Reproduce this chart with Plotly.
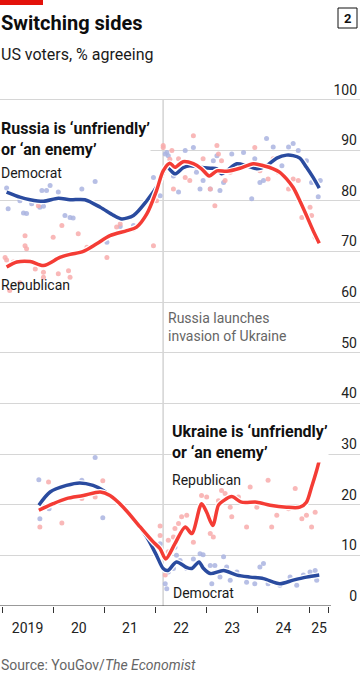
import plotly.graph_objects as go

# ---------------- data ----------------
# Russia is 'unfriendly' or 'an enemy' - trend lines
ru_dem_x = [2019.09, 2019.35, 2019.55, 2019.81, 2020.10, 2020.33, 2020.62, 2020.92, 2021.18, 2021.34,
            2021.57, 2021.83, 2022.06, 2022.22, 2022.38, 2022.54, 2022.67, 2022.87, 2023.07, 2023.20,
            2023.29, 2023.39, 2023.59, 2023.78, 2023.98, 2024.17, 2024.37, 2024.56, 2024.69, 2024.82,
            2024.95, 2025.08, 2025.20]
ru_dem_y = [81.7, 80.7, 80.2, 79.9, 80.5, 80.2, 80.2, 78.7, 77.1, 76.4,
            77.1, 80.0, 83.3, 86.6, 85.3, 86.5, 86.9, 86.6, 86.4, 86.3,
            85.3, 85.9, 87.3, 86.9, 86.3, 86.9, 88.4, 89.0, 88.9, 88.4,
            86.6, 84.6, 82.5]
ru_rep_x = [2019.09, 2019.29, 2019.55, 2019.81, 2020.13, 2020.33, 2020.59, 2020.85, 2021.11, 2021.44,
            2021.63, 2021.83, 2022.02, 2022.15, 2022.28, 2022.38, 2022.54, 2022.74, 2022.90, 2023.05,
            2023.20, 2023.39, 2023.65, 2023.91, 2024.11, 2024.30, 2024.43, 2024.56, 2024.69, 2024.82,
            2024.95, 2025.08, 2025.20]
ru_rep_y = [66.9, 67.9, 68.0, 67.2, 68.8, 69.4, 70.0, 71.5, 73.1, 74.1,
            74.8, 77.4, 82.0, 85.9, 87.4, 86.6, 87.7, 87.3, 86.3, 84.9,
            85.9, 85.8, 86.4, 87.3, 86.9, 86.3, 85.6, 84.3, 82.6, 80.0,
            77.1, 74.1, 71.6]

# Russia - individual polls
ru_dem_pts_x = [2019.09, 2019.12, 2019.35, 2019.42, 2019.48, 2019.58, 2019.65, 2019.74, 2019.81, 2019.87,
                2019.94, 2019.78, 2020.10, 2020.23, 2020.33, 2020.39, 2020.56, 2020.82, 2021.05, 2021.31,
                2021.57, 2021.96, 2022.09, 2022.22, 2022.25, 2022.19, 2022.35, 2022.45, 2022.58, 2022.74,
                2022.80, 2022.87, 2022.93, 2023.07, 2023.13, 2023.20, 2023.26, 2023.33, 2023.49, 2023.72,
                2023.88, 2023.94, 2024.04, 2024.11, 2024.17, 2024.30, 2024.47, 2024.60, 2024.69, 2024.79,
                2024.95, 2025.05, 2025.18, 2025.22]
ru_dem_pts_y = [82.5, 78.4, 80.0, 77.6, 77.5, 79.4, 80.0, 78.7, 78.9, 82.0,
                83.0, 82.0, 81.7, 77.1, 76.7, 76.6, 82.3, 83.8, 71.8, 74.9,
                75.1, 84.6, 81.0, 89.5, 88.9, 89.2, 84.9, 81.7, 89.9, 90.5,
                85.6, 82.3, 84.0, 82.3, 87.9, 88.9, 82.0, 83.6, 89.2, 89.5,
                80.4, 88.3, 83.6, 84.0, 92.3, 90.6, 86.9, 90.6, 91.3, 89.9,
                87.9, 83.6, 80.8, 84.0]
ru_rep_pts_x = [2019.06, 2019.09, 2019.22, 2019.45, 2019.45, 2019.48, 2019.65, 2019.71, 2019.81, 2019.81,
                2020.00, 2020.10, 2020.17, 2020.30, 2020.33, 2020.49, 2020.66, 2021.05, 2021.24, 2021.31,
                2021.57, 2021.96, 2022.02, 2022.15, 2022.32, 2019.15, 2019.35, 2022.15, 2022.28, 2022.35,
                2022.45, 2022.58, 2022.67, 2022.74, 2022.80, 2022.93, 2023.07, 2023.16, 2023.20, 2023.23,
                2023.29, 2023.36, 2023.46, 2023.94, 2024.04, 2024.20, 2024.30, 2024.40, 2024.60, 2024.69,
                2024.79, 2024.86, 2025.02, 2025.12, 2025.05]
ru_rep_pts_y = [68.8, 68.3, 67.9, 73.1, 71.1, 70.5, 66.5, 79.0, 65.9, 64.9,
                72.8, 65.6, 75.1, 66.2, 64.9, 73.5, 70.8, 68.8, 74.8, 75.4,
                74.4, 71.1, 80.0, 90.9, 89.9, 62.3, 63.8, 90.5, 88.2, 82.3,
                88.3, 84.6, 84.0, 92.8, 86.6, 88.3, 82.3, 79.0, 90.9, 89.2,
                87.9, 84.0, 85.6, 90.5, 85.9, 84.3, 88.3, 85.6, 82.3, 84.3,
                84.0, 76.7, 78.7, 72.8, 77.1]

# Ukraine is 'unfriendly' or 'an enemy' - trend lines
ua_dem_x = [2019.72, 2019.94, 2020.26, 2020.52, 2020.78, 2020.98, 2021.24, 2021.57, 2021.83, 2022.02,
            2022.15, 2022.24, 2022.41, 2022.61, 2022.71, 2022.85, 2022.93, 2023.07, 2023.33, 2023.59,
            2023.85, 2024.11, 2024.43, 2024.69, 2024.95, 2025.20]
ua_dem_y = [19.9, 22.5, 23.8, 24.3, 23.8, 22.8, 20.8, 17.2, 13.6, 10.0,
            7.4, 7.0, 8.7, 7.6, 7.4, 8.7, 7.5, 6.4, 7.0, 6.1,
            5.7, 5.4, 4.4, 5.1, 5.7, 6.1]
ua_rep_x = [2019.72, 2020.00, 2020.26, 2020.59, 2020.92, 2021.11, 2021.37, 2021.70, 2021.96, 2022.09,
            2022.20, 2022.38, 2022.58, 2022.71, 2022.90, 2023.00, 2023.12, 2023.23, 2023.33, 2023.49,
            2023.68, 2023.98, 2024.24, 2024.56, 2024.82, 2024.95, 2025.05, 2025.15, 2025.20]
ua_rep_y = [18.9, 20.2, 21.2, 21.8, 22.5, 21.8, 19.5, 15.6, 12.6, 11.3,
            9.3, 12.3, 15.6, 14.3, 20.2, 18.5, 15.9, 19.9, 20.8, 21.6,
            20.5, 20.5, 19.9, 19.5, 19.5, 20.5, 23.5, 26.8, 28.7]

# Ukraine - individual polls
ua_dem_pts_x = [2019.72, 2019.74, 2019.92, 2020.56, 2020.82, 2020.97, 2022.09, 2022.19, 2022.22, 2022.25,
                2022.35, 2022.41, 2022.38, 2022.48, 2022.61, 2022.74, 2022.87, 2022.93, 2023.07, 2023.10,
                2023.16, 2023.20, 2023.26, 2023.33, 2023.39, 2023.46, 2023.59, 2023.78, 2023.94, 2024.04,
                2024.11, 2024.20, 2024.43, 2024.63, 2024.76, 2024.89, 2025.02, 2025.12, 2025.15]
ua_dem_pts_y = [24.9, 17.2, 19.2, 24.8, 29.3, 17.4, 12.3, 4.4, 3.4, 6.7,
                7.4, 10.0, 11.6, 9.0, 7.4, 9.3, 10.3, 10.1, 8.0, 4.4,
                8.0, 6.7, 5.7, 9.7, 7.7, 5.1, 6.7, 4.7, 4.4, 7.7,
                8.4, 4.4, 4.1, 5.7, 4.1, 6.1, 6.7, 7.0, 5.1]
ua_rep_pts_x = [2019.91, 2020.17, 2019.74, 2020.56, 2020.82, 2020.97, 2022.09, 2022.09, 2021.96, 2022.19,
                2022.25, 2022.35, 2022.45, 2022.25, 2022.38, 2022.51, 2022.61, 2022.74, 2022.90, 2023.00,
                2023.07, 2023.13, 2023.16, 2023.23, 2023.29, 2023.36, 2023.46, 2023.49, 2023.62, 2023.78,
                2023.85, 2023.98, 2024.20, 2024.27, 2024.37, 2024.60, 2024.73, 2024.86, 2024.95, 2025.05,
                2025.12, 2025.14]
ua_rep_pts_y = [24.5, 16.4, 15.6, 21.2, 21.5, 24.7, 15.8, 13.9, 11.3, 6.1,
                13.0, 13.6, 16.3, 10.7, 15.3, 17.6, 17.9, 12.6, 21.8, 21.5,
                14.3, 13.6, 17.6, 20.8, 22.8, 22.2, 19.5, 17.6, 21.5, 15.6,
                23.5, 19.5, 24.8, 15.6, 17.9, 19.2, 23.2, 17.2, 17.9, 15.6,
                18.5, 30.7]

year_ticks = [2019, 2020, 2021, 2022, 2023, 2024, 2025, 2025.39]
year_label_pos = [2019.5, 2020.5, 2021.5, 2022.5, 2023.5, 2024.5, 2025.195]
year_labels = ["2019", "20", "21", "22", "23", "24", "25"]
y_ticks = [0, 10, 20, 30, 40, 50, 60, 70, 80, 90, 100]
invasion = 2022.148

# ---------------- styling ----------------
W, H = 360, 676
YMAX = 106
MB = 70
PH = round(5.07 * YMAX)   # ~5.07 px per percentage point
MT = H - MB - PH
FONT = "Roboto"
BLUE = "#2a4b9f"
RED = "#f43c35"
BLUE_PT = "#aab4e0"
RED_PT = "#f8abab"


def py(ypx):
    return (H - MB - ypx) / PH


def px(xpx):
    return xpx / W


fig = go.Figure()

for xs, ys, c in [(ru_dem_pts_x, ru_dem_pts_y, BLUE_PT), (ru_rep_pts_x, ru_rep_pts_y, RED_PT),
                  (ua_dem_pts_x, ua_dem_pts_y, BLUE_PT), (ua_rep_pts_x, ua_rep_pts_y, RED_PT)]:
    fig.add_trace(go.Scatter(x=xs, y=ys, mode="markers",
                             marker=dict(size=5, color=c, opacity=0.85, line=dict(width=0)),
                             hoverinfo="skip", showlegend=False))

for xs, ys, c in [(ru_dem_x, ru_dem_y, BLUE), (ru_rep_x, ru_rep_y, RED),
                  (ua_dem_x, ua_dem_y, BLUE), (ua_rep_x, ua_rep_y, RED)]:
    fig.add_trace(go.Scatter(x=xs, y=ys, mode="lines",
                             line=dict(color="white", width=6, shape="spline", smoothing=0.8),
                             hoverinfo="skip", showlegend=False))
    fig.add_trace(go.Scatter(x=xs, y=ys, mode="lines",
                             line=dict(color=c, width=3.5, shape="spline", smoothing=0.8),
                             hoverinfo="skip", showlegend=False))

x0 = 2019 - 2 / 51.17
x1 = 2019 + 358 / 51.17

fig.update_layout(
    width=W, height=H,
    margin=dict(l=0, r=0, t=MT, b=MB, pad=0),
    paper_bgcolor="white", plot_bgcolor="white",
    font=dict(family=FONT, size=14, color="#222"),
    showlegend=False,
    xaxis=dict(range=[x0, x1], tickmode="array", tickvals=year_ticks, showticklabels=False,
               ticks="outside", ticklen=6, tickwidth=1, tickcolor="#333",
               showgrid=False, zeroline=False, showline=False, fixedrange=True),
    xaxis2=dict(range=[x0, x1], overlaying="x", anchor="y", side="bottom",
                tickmode="array", tickvals=year_label_pos, ticktext=year_labels,
                ticks="outside", ticklen=9, tickcolor="rgba(0,0,0,0)",
                tickfont=dict(family=FONT, size=14, color="#222"),
                showgrid=False, zeroline=False, showline=False),
    yaxis=dict(range=[0, YMAX], side="right", tickmode="array", tickvals=y_ticks,
               ticklabelposition="inside top", tickfont=dict(family=FONT, size=14, color="#222"),
               showgrid=True, gridcolor="#d6d6d6", gridwidth=1, zeroline=False, showline=False,
               ticks=""),
)

# invisible marker so that xaxis2 is rendered
fig.add_trace(go.Scatter(x=[x0], y=[0], xaxis="x2", mode="markers",
                         marker=dict(opacity=0), hoverinfo="skip", showlegend=False))

shapes = [
    dict(type="line", xref="x", yref="y", x0=invasion, x1=invasion, y0=0, y1=100,
         line=dict(color="#bdbdbd", width=1), layer="below"),
    dict(type="line", xref="x", yref="y", x0=x0, x1=2025.43, y0=0, y1=0,
         line=dict(color="#333", width=1)),
    dict(type="rect", xref="paper", yref="paper", x0=0, x1=px(43), y0=py(5), y1=py(0),
         fillcolor="#e3120b", line=dict(width=0)),
    dict(type="rect", xref="paper", yref="paper", x0=px(338), x1=px(357), y0=py(28), y1=py(8),
         fillcolor="white", line=dict(color="#111", width=1)),
]
fig.update_layout(shapes=shapes)

ann = []


def add(text, xpx, ypx, size=14, color="#1a1a1a", bg=None, xanchor="left"):
    d = dict(text=text, xref="paper", yref="paper", x=px(xpx), y=py(ypx), xanchor=xanchor,
             yanchor="middle", align="left", showarrow=False,
             font=dict(family=FONT, size=size, color=color), borderpad=0)
    if bg:
        d["bgcolor"] = bg
    ann.append(d)


add("<b>Switching sides</b>", 0, 23, size=20, color="#0d0d0d")
add("US voters, % agreeing", 0, 55, size=16, color="#1a1a1a")
add("<b>2</b>", 347.5, 18, size=13, color="#111", xanchor="center")
add("<b>Russia is ‘unfriendly’<br>or ‘an enemy’</b>", 0, 139, size=16, color="#111", bg="white")
add("Democrat", 0, 173, size=14)
add("Republican", 0, 285, size=14)
add("Russia launches<br>invasion of Ukraine", 167, 327, size=14, color="#666")
add("<b>Ukraine is ‘unfriendly’<br>or ‘an enemy’</b>", 171, 442, size=16, color="#111", bg="white")
add("Republican", 171, 480, size=14)
add("Democrat", 172, 593, size=14)
add("Source: YouGov/<i>The Economist</i>", 0, 665, size=14, color="#666")
fig.update_layout(annotations=ann)

fig.write_html("out.html", config={"displayModeBar": False},
               post_script="document.body.style.margin='0';document.body.style.overflow='hidden';")
